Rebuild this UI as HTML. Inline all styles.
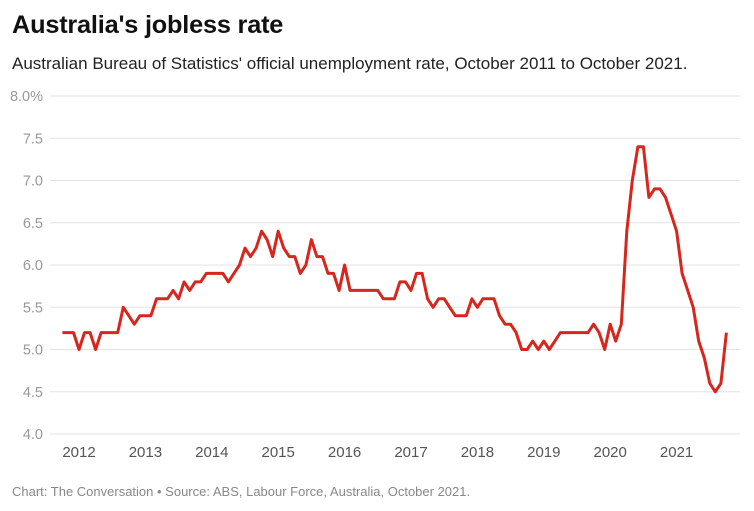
<!DOCTYPE html>
<html><head><meta charset="utf-8"><style>
html,body{margin:0;padding:0;background:#fff;width:754px;height:511px;overflow:hidden}
body{font-family:"Liberation Sans",sans-serif;position:relative}
#title{position:absolute;left:12px;top:11px;font-size:25.3px;font-weight:bold;color:#111;margin:0;letter-spacing:-0.2px}
#sub{position:absolute;left:12px;top:54px;font-size:17px;color:#222;margin:0}
#foot{position:absolute;left:12px;top:484px;font-size:13px;color:#888;margin:0}
svg{position:absolute;left:0;top:0}
</style></head><body>
<h1 id="title">Australia's jobless rate</h1>
<p id="sub">Australian Bureau of Statistics' official unemployment rate, October 2011 to October 2021.</p>
<svg id="chart" width="754" height="511"></svg>
<p id="foot">Chart: The Conversation • Source: ABS, Labour Force, Australia, October 2021.</p>
<script>
const yTicks=[4.0,4.5,5.0,5.5,6.0,6.5,7.0,7.5,8.0];
const yTickLabels=["4.0","4.5","5.0","5.5","6.0","6.5","7.0","7.5","8.0%"];
const xYears=[2012,2013,2014,2015,2016,2017,2018,2019,2020,2021];
const startYear=2011, startMonth=9; // October 2011 (0-based month)
const rates=[5.2,5.2,5.2,5.0,5.2,5.2,5.0,5.2,5.2,5.2,5.2,5.5,5.4,5.3,5.4,5.4,5.4,5.6,5.6,5.6,
5.7,5.6,5.8,5.7,5.8,5.8,5.9,5.9,5.9,5.9,5.8,5.9,6.0,6.2,6.1,6.2,6.4,6.3,6.1,6.4,
6.2,6.1,6.1,5.9,6.0,6.3,6.1,6.1,5.9,5.9,5.7,6.0,5.7,5.7,5.7,5.7,5.7,5.7,5.6,5.6,
5.6,5.8,5.8,5.7,5.9,5.9,5.6,5.5,5.6,5.6,5.5,5.4,5.4,5.4,5.6,5.5,5.6,5.6,5.6,5.4,
5.3,5.3,5.2,5.0,5.0,5.1,5.0,5.1,5.0,5.1,5.2,5.2,5.2,5.2,5.2,5.2,5.3,5.2,5.0,5.3,
5.1,5.3,6.4,7.0,7.4,7.4,6.8,6.9,6.9,6.8,6.6,6.4,5.9,5.7,5.5,5.1,4.9,4.6,4.5,4.6,5.2];
const NS="http://www.w3.org/2000/svg";
const svg=document.getElementById('chart');
const y=v=>434-(v-4)*84.5;
const xm=m=>79+(m/12)*66.4;
const x=i=>xm(i+(startYear-2012)*12+startMonth);
function mk(t,a){const e=document.createElementNS(NS,t);for(const k in a)e.setAttribute(k,a[k]);svg.appendChild(e);return e;}
yTicks.forEach((v,k)=>{
  const g=mk('line',{x1:50,x2:740,y1:y(v),y2:y(v),stroke:'#e3e3e3','stroke-width':1});
  
  
  const t=mk('text',{x:43,y:y(v)+5,'text-anchor':'end','font-size':14.5,fill:'#999','font-family':'Liberation Sans, sans-serif'});
  t.textContent=yTickLabels[k];
  
  
});
xYears.forEach(yr=>{
  const t=mk('text',{x:xm((yr-2012)*12),y:457,'text-anchor':'middle','font-size':15,fill:'#555','font-family':'Liberation Sans, sans-serif'});
  t.textContent=yr;
  
  
});
const p=mk('polyline',{points:rates.map((v,i)=>x(i).toFixed(1)+','+y(v).toFixed(1)).join(' '),fill:'none',stroke:'#d7261e','stroke-width':3,'stroke-linejoin':'round'});


</script>
</body></html>
